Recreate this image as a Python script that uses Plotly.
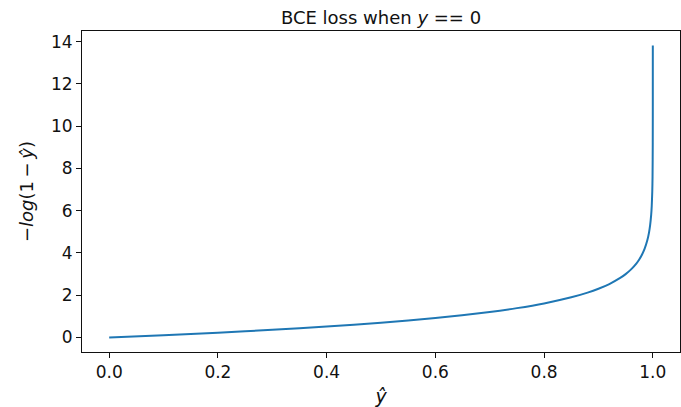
import plotly.graph_objects as go

# values
y_hat = [0.0, 0.1, 0.2, 0.3, 0.4, 0.5, 0.6, 0.7, 0.75, 0.8, 0.85, 0.88, 0.9, 0.92, 0.94,
         0.95, 0.96, 0.97, 0.975, 0.98, 0.985, 0.99, 0.993, 0.995, 0.997, 0.998, 0.999,
         0.9995, 0.9999, 0.99999, 0.999999]
loss = [0.0, 0.105, 0.223, 0.357, 0.511, 0.693, 0.916, 1.204, 1.386, 1.609, 1.897, 2.120,
        2.303, 2.526, 2.813, 2.996, 3.219, 3.507, 3.689, 3.912, 4.200, 4.605, 4.962, 5.298,
        5.809, 6.215, 6.908, 7.601, 9.210, 11.513, 13.816]

x_ticks = [0.0, 0.2, 0.4, 0.6, 0.8, 1.0]
x_tick_labels = ["0.0", "0.2", "0.4", "0.6", "0.8", "1.0"]
y_ticks = [0, 2, 4, 6, 8, 10, 12, 14]

fig = go.Figure()
fig.add_trace(go.Scatter(x=y_hat, y=loss, mode="lines",
                         line=dict(color="#1f77b4", width=2, shape="spline", smoothing=0.6),
                         showlegend=False, hoverinfo="skip"))

axis_common = dict(showline=True, linecolor="#111", linewidth=1, mirror=True,
                   ticks="outside", ticklen=5, tickwidth=1, tickcolor="#111",
                   showgrid=False, zeroline=False,
                   tickfont=dict(family="DejaVu Sans", size=17, color="#111"))

fig.update_layout(
    width=681, height=407,
    margin=dict(l=82, r=1, t=31, b=55),
    paper_bgcolor="white", plot_bgcolor="white",
    title=dict(text="BCE loss when <i>y</i> == 0", x=(82 + 680) / 2 / 681, xanchor="center",
               y=1 - 18 / 407, yanchor="middle",
               font=dict(family="DejaVu Sans", size=18, color="#111")),
    xaxis=dict(range=[-0.05, 1.05], tickvals=x_ticks, ticktext=x_tick_labels,
               title=dict(text="<i>ŷ</i>", font=dict(family="DejaVu Sans", size=19, color="#111"),
                          standoff=8),
               **axis_common),
    yaxis=dict(range=[-0.69, 14.5], tickvals=y_ticks,
               title=dict(text="−<i>log</i>(1\u2009−\u2009<i>ŷ</i>)",
                          font=dict(family="DejaVu Sans", size=18, color="#111"), standoff=12),
               **axis_common),
)

fig.write_html("out.html")
